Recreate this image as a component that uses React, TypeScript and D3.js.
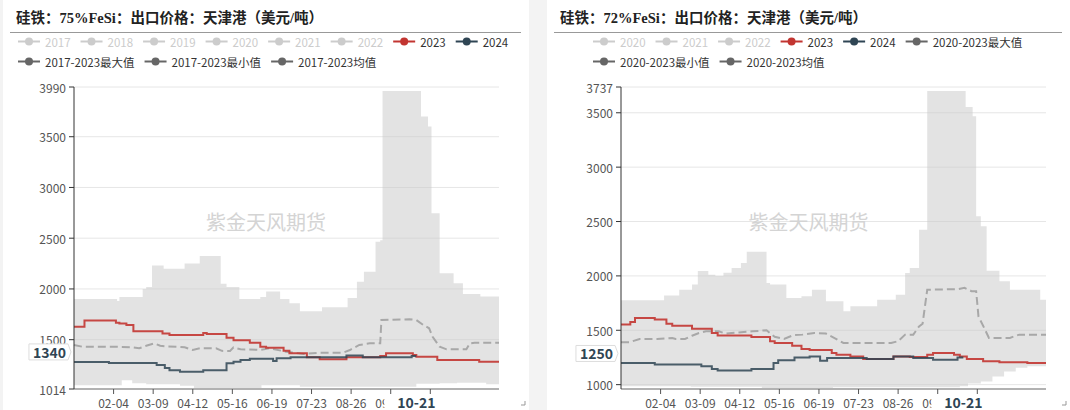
import * as d3 from 'd3';

type Pt = [string, number];

// ---- data (dates are MM-DD on a leap-year axis) ----
const LEFT_TITLE = '硅铁：75%FeSi：出口价格：天津港（美元/吨）';
const RIGHT_TITLE = '硅铁：72%FeSi：出口价格：天津港（美元/吨）';

const LEFT_YEARS_OFF = ['2017', '2018', '2019', '2020', '2021', '2022'];
const RIGHT_YEARS_OFF = ['2020', '2021', '2022'];
const YEARS_ON = ['2023', '2024'];
const LEFT_STATS = ['2017-2023最大值', '2017-2023最小值', '2017-2023均值'];
const RIGHT_STATS = ['2020-2023最大值', '2020-2023最小值', '2020-2023均值'];

const X_TICKS = ['02-04', '03-09', '04-12', '05-16', '06-19', '07-23', '08-26', '09-29', '11-02'];
const LEFT_Y_TICKS = [1500, 2000, 2500, 3000, 3500];
const RIGHT_Y_TICKS = [1000, 1500, 2000, 2500, 3000, 3500];

const LEFT_MAX: Pt[] = [
  ['01-01', 1900], ['02-07', 1880], ['02-09', 1920], ['02-29', 2000], ['03-03', 2020],
  ['03-08', 2230], ['03-18', 2200], ['04-05', 2250], ['04-18', 2325], ['05-06', 2050],
  ['05-11', 2020], ['05-22', 1900], ['06-09', 1920], ['06-14', 1975], ['06-26', 1900],
  ['07-04', 1860], ['07-13', 1780], ['08-01', 1820], ['08-23', 1910], ['08-31', 2070],
  ['09-06', 2170], ['09-16', 2465], ['09-20', 2480], ['09-22', 3950], ['10-25', 3700],
  ['10-31', 3600], ['11-03', 2745], ['11-10', 2155], ['11-22', 2055], ['11-30', 1950],
  ['12-15', 1925], ['12-31', 1920],
];
const LEFT_MIN: Pt[] = [
  ['01-01', 1050], ['02-11', 1100], ['02-20', 1070], ['03-03', 1060], ['04-01', 1045],
  ['04-13', 1025], ['06-10', 1050], ['07-13', 1035], ['10-21', 1065], ['11-10', 1070],
  ['11-25', 1075], ['12-20', 1060], ['12-31', 1060],
];
const LEFT_AVG: Pt[] = [
  ['01-01', 1448], ['01-08', 1431], ['02-05', 1430], ['02-20', 1425], ['02-26', 1415],
  ['03-03', 1440], ['03-10', 1464], ['03-15', 1440], ['03-20', 1435], ['04-05', 1425],
  ['04-12', 1398], ['04-18', 1415], ['05-02', 1415], ['05-07', 1390], ['05-14', 1388],
  ['05-17', 1425], ['05-23', 1405], ['06-09', 1400], ['06-17', 1415], ['07-01', 1382],
  ['07-16', 1359], ['07-30', 1372], ['08-19', 1372], ['08-25', 1398], ['09-02', 1448],
  ['09-11', 1464], ['09-20', 1464], ['09-21', 1694], ['10-15', 1701], ['10-21', 1694],
  ['10-27', 1645], ['11-01', 1612], ['11-04', 1529], ['11-10', 1431], ['11-16', 1405],
  ['12-03', 1405], ['12-06', 1464], ['12-10', 1470], ['12-31', 1470],
];
const LEFT_2023: Pt[] = [
  ['01-01', 1628], ['01-10', 1690], ['02-06', 1667], ['02-09', 1660], ['02-15', 1645],
  ['02-21', 1583], ['03-17', 1560], ['03-23', 1545], ['04-21', 1567], ['04-24', 1555],
  ['05-11', 1520], ['05-17', 1495], ['05-31', 1470], ['06-09', 1430], ['06-14', 1420],
  ['06-29', 1390], ['07-04', 1366], ['07-19', 1326], ['07-30', 1307], ['08-22', 1326],
  ['09-20', 1340], ['09-25', 1366], ['10-18', 1350], ['10-21', 1332], ['11-08', 1300],
  ['12-14', 1283], ['12-31', 1283],
];
const LEFT_2024: Pt[] = [
  ['01-01', 1280], ['01-31', 1270], ['03-12', 1250], ['03-19', 1220], ['03-23', 1200],
  ['04-01', 1185], ['04-21', 1200], ['05-11', 1267], ['05-17', 1283], ['05-23', 1300],
  ['05-31', 1313], ['06-20', 1290], ['06-23', 1316], ['07-05', 1326], ['08-22', 1345],
  ['09-05', 1326], ['10-17', 1340], ['10-21', 1340],
];

const RIGHT_MAX: Pt[] = [
  ['01-01', 1775], ['02-07', 1820], ['02-20', 1873], ['03-02', 1920], ['03-07', 2046],
  ['03-16', 2011], ['03-22', 2000], ['03-29', 2030], ['04-05', 2073], ['04-13', 2119],
  ['04-18', 2223], ['05-05', 1935], ['05-08', 1920], ['05-22', 1797], ['06-04', 1812],
  ['06-13', 1873], ['06-25', 1766], ['07-10', 1674], ['07-16', 1720], ['08-08', 1781],
  ['08-24', 1826], ['09-01', 2027], ['09-05', 2073], ['09-13', 2425], ['09-20', 3700],
  ['10-23', 3554], ['10-29', 3468], ['11-01', 2548], ['11-05', 2456], ['11-10', 2048],
  ['11-21', 1950], ['11-30', 1873], ['12-26', 1781], ['12-31', 1781],
];
const RIGHT_MIN: Pt[] = [
  ['01-01', 985], ['03-01', 980], ['05-01', 970], ['07-01', 975], ['10-18', 985],
  ['10-25', 1010], ['11-05', 1030], ['11-15', 1075], ['11-25', 1120], ['12-05', 1155],
  ['12-15', 1170], ['12-31', 1175],
];
const RIGHT_AVG: Pt[] = [
  ['01-01', 1389], ['01-08', 1389], ['01-17', 1420], ['02-01', 1420], ['02-14', 1429],
  ['02-17', 1420], ['02-25', 1420], ['03-02', 1450], ['03-08', 1475], ['03-14', 1490],
  ['03-25', 1490], ['03-31', 1469], ['04-11', 1480], ['04-23', 1490], ['05-05', 1500],
  ['05-12', 1440], ['05-20', 1420], ['05-28', 1455], ['06-05', 1460], ['06-15', 1475],
  ['06-25', 1470], ['07-02', 1430], ['07-10', 1383], ['08-20', 1383], ['08-26', 1400],
  ['09-01', 1460], ['09-08', 1460], ['09-13', 1536], ['09-16', 1560], ['09-20', 1873],
  ['10-16', 1878], ['10-22', 1890], ['10-28', 1860], ['11-01', 1860], ['11-03', 1628],
  ['11-08', 1520], ['11-12', 1430], ['11-30', 1430], ['12-08', 1460], ['12-31', 1460],
];
const RIGHT_2023: Pt[] = [
  ['01-01', 1552], ['01-09', 1575], ['01-13', 1613], ['01-30', 1598], ['02-09', 1561],
  ['02-14', 1542], ['03-02', 1515], ['03-19', 1475], ['03-24', 1453], ['04-22', 1438],
  ['05-08', 1398], ['05-12', 1383], ['05-27', 1358], ['06-04', 1328], ['06-11', 1318],
  ['06-30', 1291], ['07-04', 1276], ['07-16', 1260], ['07-27', 1235], ['08-22', 1260],
  ['09-05', 1255], ['09-20', 1276], ['09-25', 1291], ['10-13', 1276], ['10-18', 1260],
  ['10-24', 1235], ['11-07', 1215], ['11-21', 1205], ['12-15', 1199], ['12-31', 1199],
];
const RIGHT_2024: Pt[] = [
  ['01-01', 1200], ['01-30', 1185], ['03-10', 1170], ['03-19', 1145], ['03-24', 1130],
  ['04-22', 1145], ['05-11', 1200], ['05-15', 1224], ['05-29', 1250], ['06-11', 1260],
  ['06-20', 1220], ['06-26', 1245], ['07-30', 1235], ['08-22', 1260], ['09-08', 1245],
  ['09-25', 1230], ['10-16', 1250], ['10-21', 1250],
];

// ---- styling ----
const SANS = '"Noto Sans CJK SC", "Noto Sans", sans-serif';
const RED = '#c23531';
const NAVY = '#2f4554';
const STAT = '#666';
const OFF = '#ccc';

const toDate = (md: string) => new Date(2024, +md.slice(0, 2) - 1, +md.slice(3, 5));

const measureCtx = document.createElement('canvas').getContext('2d')!;
const textWidth = (s: string, font: string) => {
  measureCtx.font = font;
  return measureCtx.measureText(s).width;
};

const stepAt = (pts: Pt[], d: Date) => {
  let v = pts[0][1];
  for (const [md, val] of pts) {
    if (toDate(md) <= d) v = val;
    else break;
  }
  return v;
};

type LegendItem = { name: string; color: string; on: boolean };

type Layout = {
  panelL: number;
  panelR: number;
  plotL: number;
  plotR: number;
  plotT: number;
  plotB: number;
  legendX: number;
};

type PanelProps = {
  layout: Layout;
  title: string;
  legend: LegendItem[];
  yTicks: number[];
  max: Pt[];
  min: Pt[];
  avg: Pt[];
  cur: Pt[];
  prev: Pt[];
};

const Panel = ({ layout, title, legend, yTicks, max, min, avg, cur, prev }: PanelProps) => {
  const { panelL, panelR, plotL, plotR, plotT, plotB, legendX } = layout;

  const yMin = Math.floor(d3.min(min, (d) => d[1])! * 0.99);
  const yMax = Math.ceil(d3.max(max, (d) => d[1])! * 1.01);

  const x = d3.scaleTime().domain([toDate('01-01'), toDate('12-31')]).range([plotL, plotR]);
  const y = d3.scaleLinear().domain([yMin, yMax]).range([plotB, plotT]);

  // band between min and max (both are step series)
  const bandDates = Array.from(new Set([...max, ...min].map((p) => p[0])))
    .map(toDate)
    .sort((a, b) => +a - +b);
  const bandPath = d3
    .area<Date>()
    .x((d) => x(d))
    .y0((d) => y(stepAt(min, d)))
    .y1((d) => y(stepAt(max, d)))
    .curve(d3.curveStepAfter)(bandDates)!;

  const stepLine = d3
    .line<Pt>()
    .x((p) => x(toDate(p[0])))
    .y((p) => y(p[1]))
    .curve(d3.curveStepAfter);
  const linLine = d3
    .line<Pt>()
    .x((p) => x(toDate(p[0])))
    .y((p) => y(p[1]));

  // y labels, hiding min / max labels that collide with regular ticks
  const labels: number[] = [...yTicks];
  const collides = (v: number) => yTicks.some((t) => Math.abs(y(t) - y(v)) < 12);
  if (!collides(yMin)) labels.push(yMin);
  if (!collides(yMax)) labels.push(yMax);

  // legend layout
  const legendFont = `11.5px ${SANS}`;
  const iconW = 22;
  const legendPos: { item: LegendItem; x: number; row: number }[] = [];
  let lx = legendX;
  let row = 0;
  legend.forEach((item) => {
    const w = iconW + 5 + textWidth(item.name, legendFont);
    if (lx + w > panelR - 8) {
      row += 1;
      lx = legendX;
    }
    legendPos.push({ item, x: lx, row });
    lx += w + 10;
  });

  const last = prev[prev.length - 1];
  const lastX = x(toDate(last[0]));
  const lastY = y(last[1]) - 4;
  const yLabelW = textWidth(String(last[1]), `bold 14px ${SANS}`);
  const cx = (panelL + panelR) / 2;

  return (
    <g>
      <rect x={panelL} y={0} width={panelR - panelL} height={410} fill="#fff" />
      <text
        x={panelL + 13}
        y={23}
        fontFamily={'"Liberation Serif", "Noto Sans CJK SC", serif'}
        fontWeight="bold"
        fontSize={14.5}
        fill="#222"
      >
        {title}
      </text>
      <line x1={panelL + 7} x2={panelR - 8} y1={32.5} y2={32.5} stroke="#999" />

      {legendPos.map(({ item, x: ix, row: r }) => {
        const cy = 41.5 + r * 20;
        return (
          <g key={item.name}>
            <line x1={ix} x2={ix + iconW} y1={cy} y2={cy} stroke={item.color} strokeWidth={2} />
            <circle cx={ix + iconW / 2} cy={cy} r={4} fill={item.color} />
            <text
              x={ix + iconW + 5}
              y={cy}
              dominantBaseline="central"
              fontFamily={SANS}
              fontSize={11.5}
              fill={item.on ? '#333' : OFF}
            >
              {item.name}
            </text>
          </g>
        );
      })}

      {/* grid */}
      {[...yTicks, yMax].map((t) => (
        <line key={t} x1={plotL} x2={plotR} y1={y(t)} y2={y(t)} stroke="#e6e6e6" />
      ))}

      <path d={bandPath} fill="#c8c8c8" fillOpacity={0.5} />
      <path d={linLine(avg)!} fill="none" stroke="#a8a8a8" strokeWidth={2} strokeDasharray="8,4" />
      <path d={stepLine(cur)!} fill="none" stroke={RED} strokeOpacity={0.9} strokeWidth={2} />
      <path d={stepLine(prev)!} fill="none" stroke={NAVY} strokeOpacity={0.85} strokeWidth={2} />

      {/* axes */}
      <line x1={plotL} x2={plotR} y1={plotB} y2={plotB} stroke="#999" strokeWidth={1.5} />
      <line x1={plotL} x2={plotL} y1={plotT} y2={plotB} stroke="#333" />
      {labels.map((t) => (
        <g key={t}>
          <line x1={plotL - 5} x2={plotL} y1={y(t)} y2={y(t)} stroke="#333" />
          <text
            x={plotL - 8}
            y={y(t)}
            textAnchor="end"
            dominantBaseline="central"
            fontFamily={SANS}
            fontSize={12}
            fill="#555"
          >
            {t}
          </text>
        </g>
      ))}
      {X_TICKS.map((t) => (
        <g key={t}>
          <line x1={x(toDate(t))} x2={x(toDate(t))} y1={plotB} y2={plotB + 5} stroke="#555" />
          <text
            x={x(toDate(t))}
            y={plotB + 13}
            textAnchor="middle"
            dominantBaseline="central"
            fontFamily={SANS}
            fontSize={12}
            fill="#555"
          >
            {t}
          </text>
        </g>
      ))}

      {/* axis pointer labels */}
      <rect x={lastX - 32} y={plotB + 5.5} width={64} height={20} fill="#fff" />
      <text
        x={lastX}
        y={plotB + 13}
        textAnchor="middle"
        dominantBaseline="central"
        fontFamily={SANS}
        fontWeight="bold"
        fontSize={14}
        fill={NAVY}
      >
        {last[0]}
      </text>
      <path
        d={`M${plotL - 6 - yLabelW - 6},${lastY - 8}H${plotL - 6}L${plotL - 3},${lastY}L${plotL - 6},${lastY + 8}H${plotL - 6 - yLabelW - 6}Z`}
        fill="#fff"
        stroke="#ddd"
      />
      <text
        x={plotL - 8}
        y={lastY}
        textAnchor="end"
        dominantBaseline="central"
        fontFamily={SANS}
        fontWeight="bold"
        fontSize={14}
        fill={NAVY}
      >
        {last[1]}
      </text>

      <text
        x={cx}
        y={221}
        textAnchor="middle"
        dominantBaseline="central"
        fontFamily={SANS}
        fontSize={20}
        fill="#d4d4d4"
      >
        紫金天风期货
      </text>
      <path d={`M${panelR - 8},${405}h4v-4`} fill="none" stroke="#999" />
    </g>
  );
};

const legendFor = (off: string[], stats: string[]): LegendItem[] => [
  ...off.map((name) => ({ name, color: OFF, on: false })),
  { name: YEARS_ON[0], color: RED, on: true },
  { name: YEARS_ON[1], color: NAVY, on: true },
  ...stats.map((name) => ({ name, color: STAT, on: true })),
];

export default function App() {
  return (
    <div style={{ width: 1070, height: 410 }}>
      <style>{'body{margin:0;}'}</style>
      <svg width={1070} height={410} style={{ display: 'block' }}>
        <rect width={1070} height={410} fill="#f3f3f3" />
        <Panel
          layout={{ panelL: 3, panelR: 529, plotL: 74, plotR: 499, plotT: 87, plotB: 389, legendX: 18 }}
          title={LEFT_TITLE}
          legend={legendFor(LEFT_YEARS_OFF, LEFT_STATS)}
          yTicks={LEFT_Y_TICKS}
          max={LEFT_MAX}
          min={LEFT_MIN}
          avg={LEFT_AVG}
          cur={LEFT_2023}
          prev={LEFT_2024}
        />
        <Panel
          layout={{ panelL: 547, panelR: 1070, plotL: 621, plotR: 1046, plotT: 87, plotB: 389, legendX: 593 }}
          title={RIGHT_TITLE}
          legend={legendFor(RIGHT_YEARS_OFF, RIGHT_STATS)}
          yTicks={RIGHT_Y_TICKS}
          max={RIGHT_MAX}
          min={RIGHT_MIN}
          avg={RIGHT_AVG}
          cur={RIGHT_2023}
          prev={RIGHT_2024}
        />
      </svg>
    </div>
  );
}
